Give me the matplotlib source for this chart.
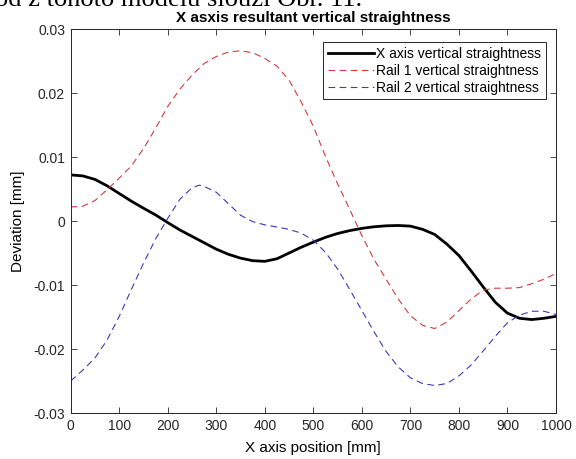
import matplotlib
matplotlib.use("Agg")
import matplotlib.pyplot as plt

plt.rcParams['font.family'] = ['Liberation Sans', 'DejaVu Sans']

# X axis vertical straightness (black), in micrometres
x_axis_pos = [0, 25, 50, 75, 100, 125, 150, 175, 200, 225, 250, 275, 300, 325, 350, 375,
              400, 425, 450, 475, 500, 525, 550, 575, 600, 625, 650, 675, 700, 725, 750,
              775, 800, 825, 850, 875, 900, 925, 950, 975, 1000]
x_axis_dev = [7.2, 7.05, 6.5, 5.5, 4.3, 3.1, 2.0, 0.95, -0.25, -1.4, -2.4, -3.4, -4.4, -5.2,
              -5.8, -6.2, -6.3, -5.9, -5.0, -4.1, -3.3, -2.55, -1.95, -1.5, -1.15, -0.9,
              -0.75, -0.7, -0.8, -1.3, -2.1, -3.6, -5.4, -7.8, -10.3, -12.7, -14.4, -15.2,
              -15.4, -15.2, -14.9]

# Rail 1 vertical straightness (red)
rail1_pos = [0, 25, 50, 75, 100, 125, 150, 175, 200, 225, 250, 275, 300, 325, 350, 375,
             400, 425, 450, 475, 500, 525, 550, 575, 600, 625, 650, 675, 700, 725, 750,
             775, 800, 825, 850, 875, 900, 925, 950, 975, 1000]
rail1_dev = [2.2, 2.3, 3.2, 4.9, 6.7, 8.6, 11.3, 14.5, 17.9, 20.6, 22.8, 24.6, 25.7, 26.4,
             26.6, 26.3, 25.4, 24.2, 22.0, 18.6, 14.8, 10.1, 5.8, 1.8, -2.3, -6.0, -9.1,
             -12.2, -14.8, -16.3, -16.8, -15.8, -14.0, -12.2, -10.8, -10.5, -10.5, -10.4,
             -9.8, -9.1, -8.2]

# Rail 2 vertical straightness (blue)
rail2_pos = [0, 25, 50, 75, 100, 125, 150, 175, 200, 225, 250, 265, 275, 300, 325, 350,
             375, 400, 425, 450, 475, 500, 525, 550, 575, 600, 625, 650, 675, 700, 725,
             750, 775, 800, 825, 850, 875, 900, 925, 950, 975, 1000]
rail2_dev = [-25.0, -23.3, -21.4, -18.6, -14.9, -10.7, -6.6, -2.8, 0.4, 3.4, 5.2, 5.6, 5.4,
             4.5, 2.7, 0.9, -0.1, -0.6, -0.95, -1.3, -1.9, -3.0, -4.9, -7.5, -10.7, -14.0,
             -17.3, -20.4, -22.8, -24.5, -25.4, -25.7, -25.4, -24.2, -22.5, -20.3, -18.0,
             -15.9, -14.7, -14.1, -14.1, -14.6]

x_ticks = [0, 100, 200, 300, 400, 500, 600, 700, 800, 900, 1000]
y_ticks = [-0.03, -0.02, -0.01, 0, 0.01, 0.02, 0.03]
y_tick_labels = ['-0.03', '-0.02', '-0.01', '0', '0.01', '0.02', '0.03']

to_mm = lambda v: [d / 1000.0 for d in v]

fig = plt.figure(figsize=(5.76, 4.59), dpi=100)
ax = fig.add_axes([0.1227, 0.1002, 0.8426, 0.8366])

ax.plot(x_axis_pos, to_mm(x_axis_dev), color='black', lw=2.0,
        label='X axis vertical straightness')
ax.plot(rail1_pos, to_mm(rail1_dev), color='#d43a3a', lw=0.8, dashes=(6, 4),
        label='Rail 1 vertical straightness')
ax.plot(rail2_pos, to_mm(rail2_dev), color='#3a3ab8', lw=0.8, dashes=(6, 4),
        label='Rail 2 vertical straightness')

ax.set_xlim(0, 1000)
ax.set_ylim(-0.03, 0.03)
ax.set_xticks(x_ticks)
ax.set_yticks(y_ticks)
ax.set_yticklabels(y_tick_labels)
ax.tick_params(direction='in', top=True, right=True, length=4, width=0.6,
               labelsize=10, colors='#262626', pad=4)
for s in ax.spines.values():
    s.set_linewidth(0.7)
    s.set_color('#262626')

ax.set_title('X asxis resultant vertical straightness', fontsize=11, fontweight='bold', pad=5)
ax.set_xlabel('X axis position [mm]', fontsize=11, labelpad=6)
ax.set_ylabel('Deviation [mm]', fontsize=11, labelpad=6)

leg = ax.legend(loc='upper right', fontsize=10, handlelength=3.3, handletextpad=0.2,
                borderpad=0.35, labelspacing=0.2, fancybox=False, framealpha=1,
                edgecolor='#262626', bbox_to_anchor=(0.994, 0.984))
leg.get_frame().set_linewidth(0.7)

# Caption text of the surrounding document, cut off at the top edge as in the reference
fig.text(-0.008, 0.988, 'od z tohoto modelu slouží Obr. 11.', fontsize=19,
         family=['Liberation Serif', 'DejaVu Serif'], va='baseline', ha='left')

fig.savefig('out.png', dpi=100)
